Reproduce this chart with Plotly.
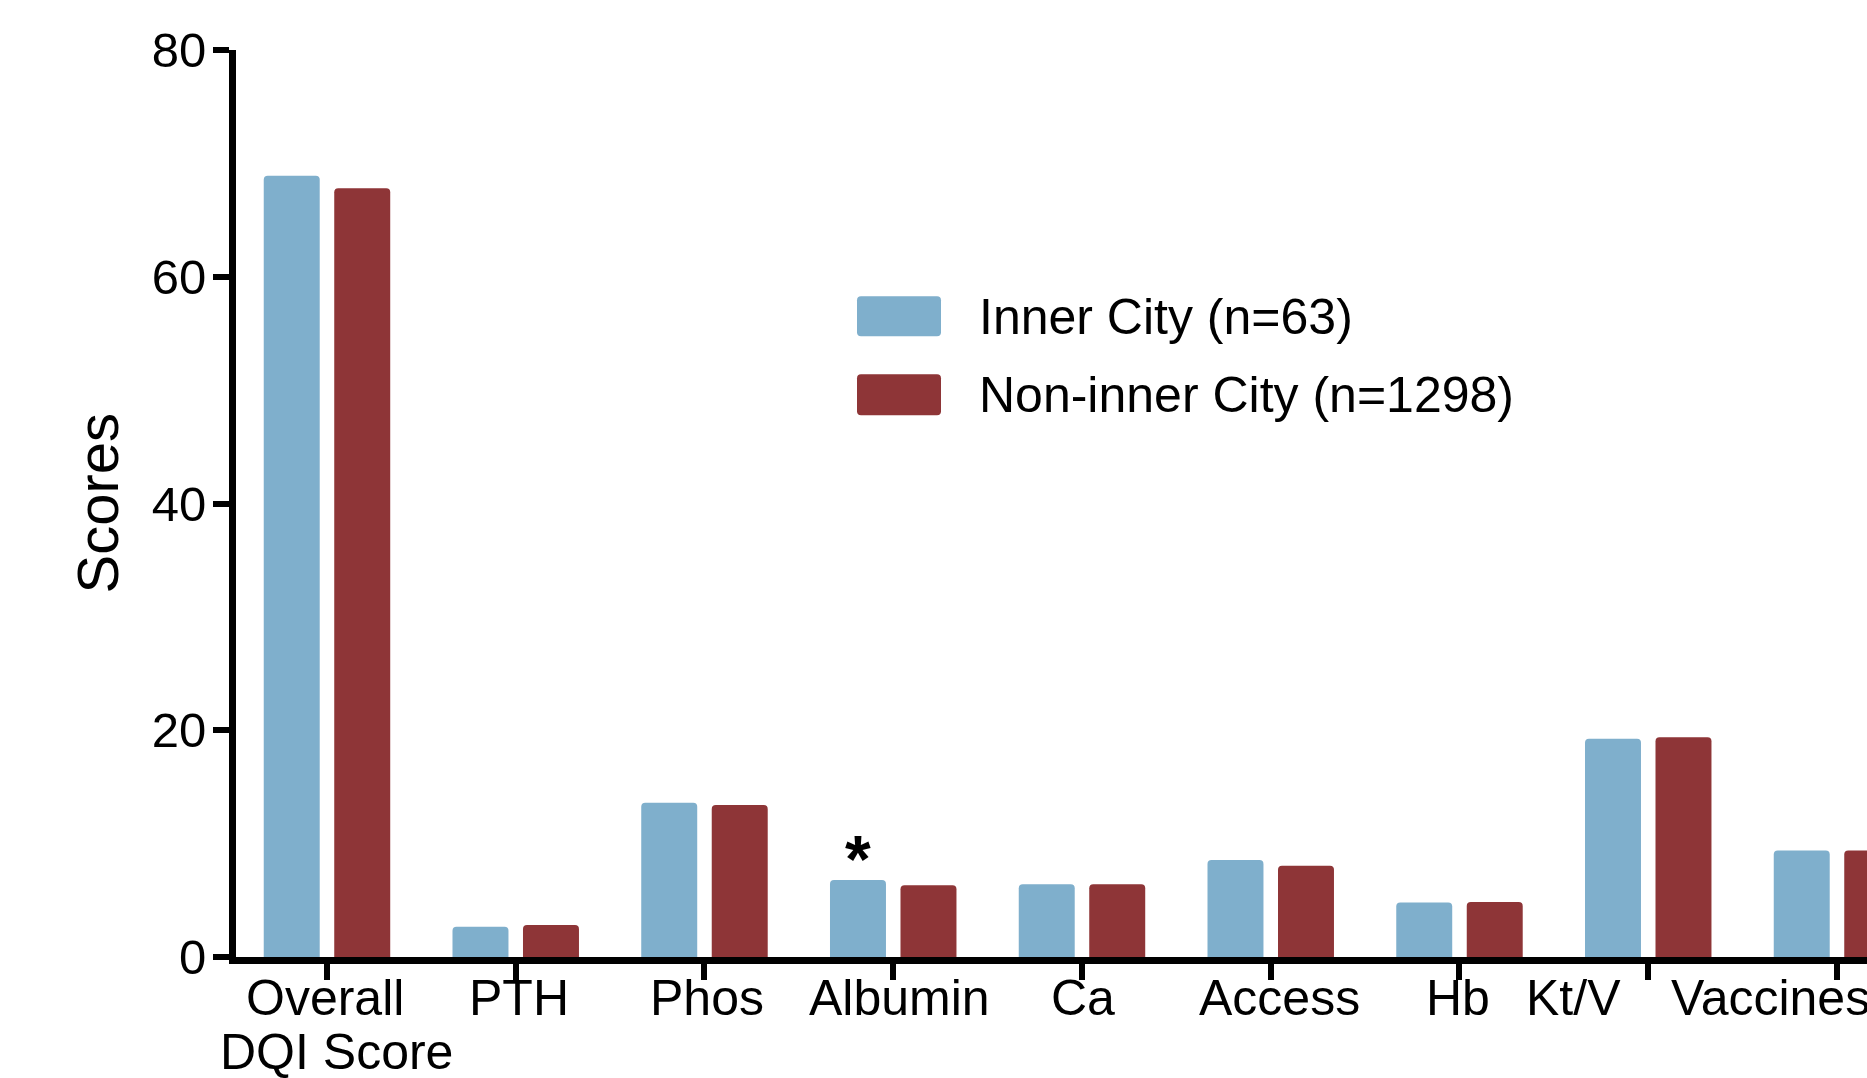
import plotly.graph_objects as go

# ---- data ----
categories = ["Overall DQI Score", "PTH", "Phos", "Albumin", "Ca", "Access", "Hb", "Kt/V", "Vaccines"]
label_lines = [["Overall", "DQI Score"], ["PTH"], ["Phos"], ["Albumin"], ["Ca"], ["Access"], ["Hb"], ["Kt/V"], ["Vaccines"]]
inner_city = [68.9, 2.66, 13.6, 6.79, 6.41, 8.55, 4.8, 19.26, 9.4]
non_inner_city = [67.8, 2.83, 13.4, 6.32, 6.41, 8.05, 4.86, 19.38, 9.4]
series_names = ["Inner City (n=63)", "Non-inner City (n=1298)"]
y_ticks = [0, 20, 40, 60, 80]
significant = ["Albumin"]

# ---- style ----
BLUE = "#7FAFCC"
RED = "#8E3537"
FONT = "Liberation Sans, Arial, Helvetica, sans-serif"
W, H = 1867, 1078
ML, MR, MT, MB = 236, 0, 49.5, 121
PW, PH = W - ML - MR, H - MT - MB
label_xshift = [[-2, 10], [3], [3], [6], [1], [9], [-1.5], [-75], [-66]]


def px(x):
    return (x - ML) / PW


def py(y):
    return (H - MB - y) / PH


fig = go.Figure()
fig.add_trace(go.Bar(x=categories, y=inner_city, name=series_names[0],
                     marker=dict(color=BLUE, line=dict(width=0))))
fig.add_trace(go.Bar(x=categories, y=non_inner_city, name=series_names[1],
                     marker=dict(color=RED, line=dict(width=0))))

annotations = []
# x tick labels
line_y = [998.5, 1052]
for cat, lines, shifts in zip(categories, label_lines, label_xshift):
    for k, (txt, sh) in enumerate(zip(lines, shifts)):
        annotations.append(dict(x=cat, xref="x", y=py(line_y[k]), yref="paper",
                                text=txt, showarrow=False, xanchor="center", yanchor="middle",
                                xshift=sh, font=dict(family=FONT, size=50, color="black")))

# significance star
for cat in significant:
    i = categories.index(cat)
    annotations.append(dict(x=cat, xref="x", y=inner_city[i], yref="y", text="<b>*</b>",
                            showarrow=False, xanchor="center", yanchor="bottom",
                            xshift=-35, yshift=-18,
                            font=dict(family=FONT, size=66, color="black")))

# y axis title
annotations.append(dict(x=px(97), xref="paper", y=0.5, yref="paper", text="Scores",
                        textangle=-90, showarrow=False, xanchor="center", yanchor="middle",
                        font=dict(family=FONT, size=58, color="black")))

# custom legend
shapes = []
legend_rows = [(296, 336, BLUE), (374, 415, RED)]
for (top, bot, col), name in zip(legend_rows, series_names):
    x0, x1 = px(857), px(941)
    y0, y1 = py(bot), py(top)
    rx, ry = 4 / PW, 4 / PH
    path = (f"M {x0+rx},{y0} L {x1-rx},{y0} Q {x1},{y0} {x1},{y0+ry} "
            f"L {x1},{y1-ry} Q {x1},{y1} {x1-rx},{y1} L {x0+rx},{y1} "
            f"Q {x0},{y1} {x0},{y1-ry} L {x0},{y0+ry} Q {x0},{y0} {x0+rx},{y0} Z")
    shapes.append(dict(type="path", xref="paper", yref="paper", path=path,
                       fillcolor=col, line=dict(width=0)))
    annotations.append(dict(x=px(977), xref="paper", y=py((top + bot) / 2 + 0.5), yref="paper",
                            text=name, showarrow=False, xanchor="left", yanchor="middle",
                            font=dict(family=FONT, size=50, color="black")))

fig.update_layout(
    width=W, height=H,
    margin=dict(l=ML, r=MR, t=MT, b=MB, pad=0),
    paper_bgcolor="white", plot_bgcolor="white",
    barmode="group", bargap=0.253, bargroupgap=0.206, barcornerradius=4,
    showlegend=False,
    annotations=annotations, shapes=shapes,
    font=dict(family=FONT, color="black"),
)
fig.update_xaxes(type="category", categoryorder="array", categoryarray=categories,
                 range=[-0.482, 8.159], showgrid=False, zeroline=False,
                 showline=True, linecolor="black", linewidth=7,
                 ticks="outside", ticklen=16, tickwidth=6, tickcolor="black",
                 showticklabels=False, fixedrange=True)
fig.update_yaxes(range=[0, 80], tickvals=y_ticks, showgrid=False, zeroline=False,
                 showline=True, linecolor="black", linewidth=7,
                 ticks="outside", ticklen=16, tickwidth=6, tickcolor="black",
                 tickfont=dict(family=FONT, size=49, color="black"),
                 ticklabelstandoff=-3, fixedrange=True)

fig.write_html("out.html",
               config={"displayModeBar": False},
               post_script="document.body.style.margin='0';document.body.style.overflow='hidden';")
